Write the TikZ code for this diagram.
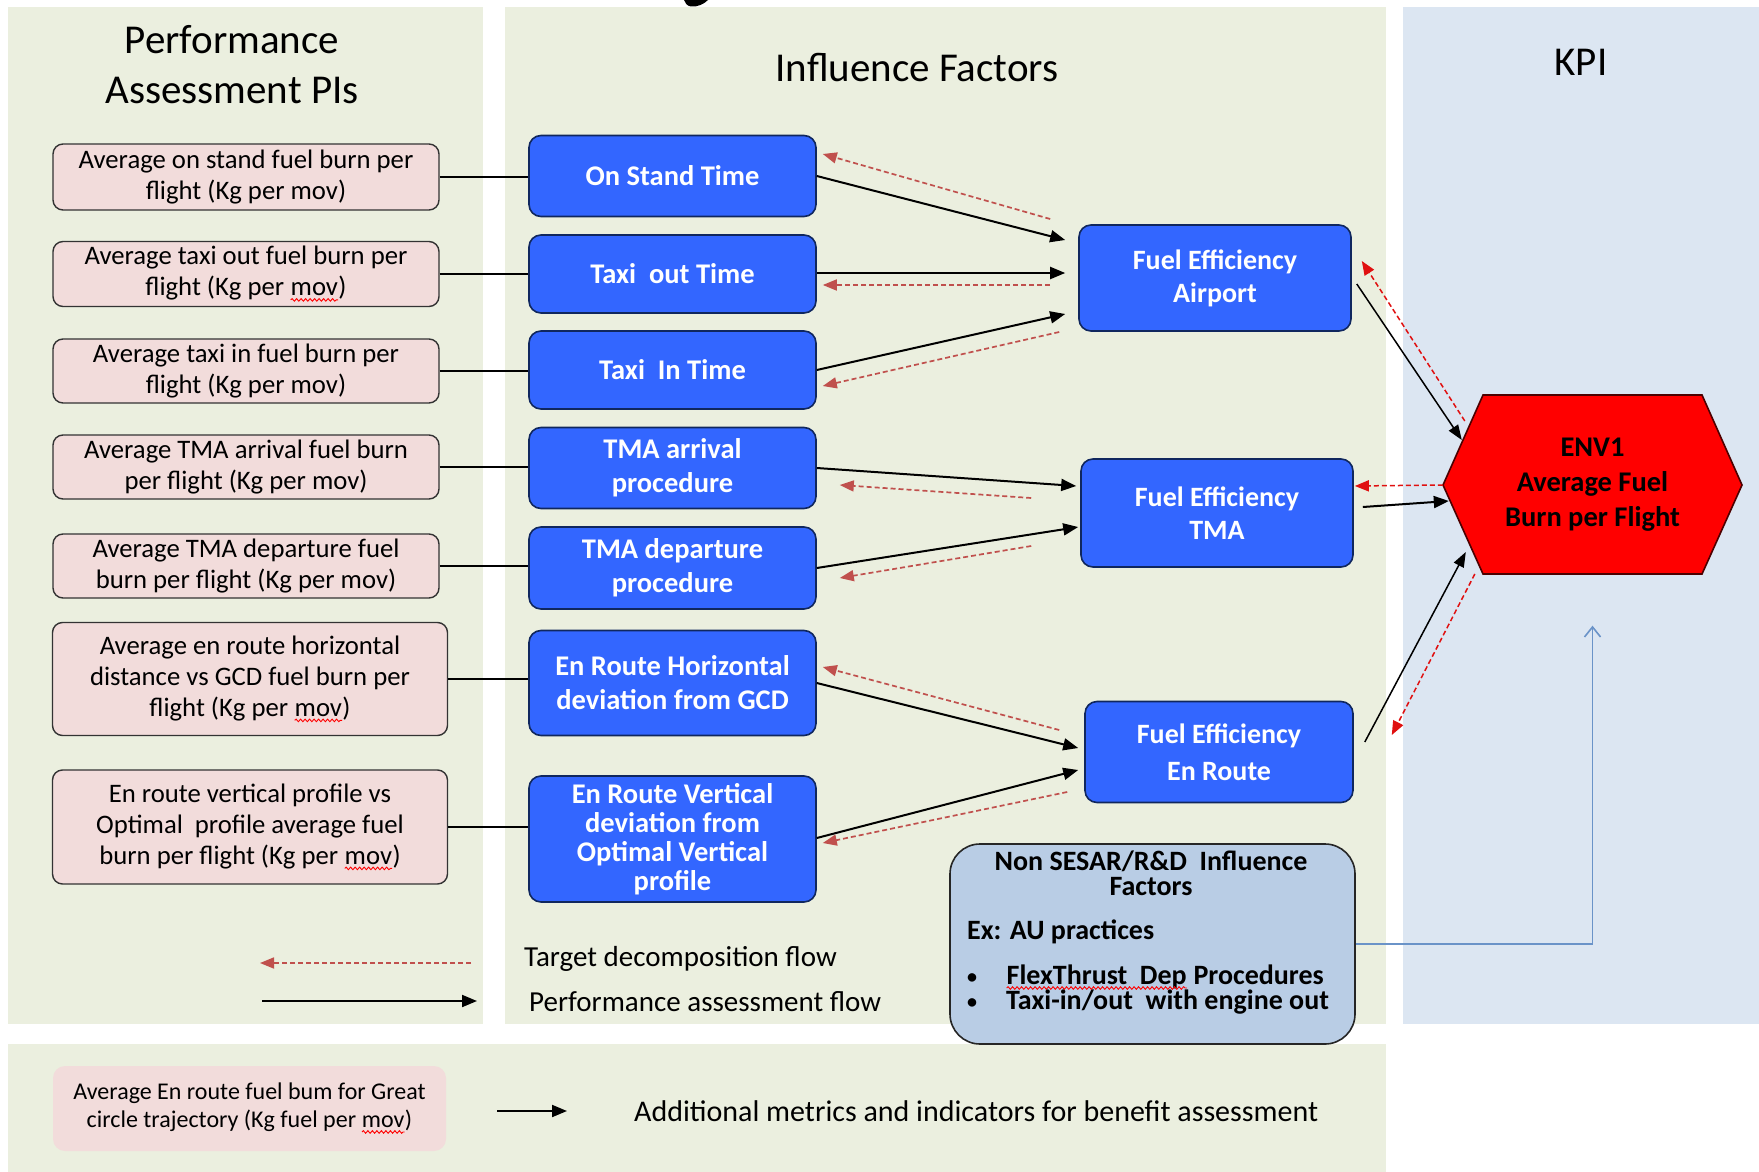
\documentclass[tikz,border=0pt]{standalone}
\usepackage{fontspec}
\setmainfont{Carlito}
\usetikzlibrary{calc,arrows.meta,decorations.pathmorphing}
\definecolor{panelg}{HTML}{EBEFDF}
\definecolor{panelb}{HTML}{DCE6F2}
\definecolor{pinkf}{HTML}{F2DCDB}
\definecolor{bluef}{HTML}{3366FF}
\definecolor{blued}{HTML}{10275E}
\definecolor{reddash}{HTML}{C0504D}
\definecolor{redbright}{HTML}{E01010}
\definecolor{nsf}{HTML}{B9CDE5}
\definecolor{lineblue}{HTML}{6A93C8}
\definecolor{hexred}{HTML}{FF0000}
\newcommand{\spl}[1]{\tikz[baseline=(w.base)]{\node[inner sep=0pt, outer sep=0pt, minimum width=0pt, minimum height=0pt, draw=none, fill=none, rounded corners=0pt, anchor=base] (w) {#1}; \draw[draw=red, fill=none, line width=0.9pt, solid, sharp corners, decorate, decoration={snake, amplitude=1.3pt, segment length=4.5pt}] ([yshift=-4pt]w.base west) -- ([yshift=-4pt]w.base east);}}
\begin{document}
\begin{tikzpicture}[x=1pt,y=-1pt,
  pinkbox/.style={draw=black!80, line width=1.4pt, fill=pinkf, rounded corners=10pt, align=center, inner sep=0pt, font=\fontsize{26.7}{31}\selectfont},
  bluebox/.style={draw=blued, line width=1.6pt, fill=bluef, rounded corners=12pt, align=center, inner sep=0pt, text=white, font=\bfseries\fontsize{28.5}{34}\selectfont},
  titletext/.style={align=center, inner sep=0pt, font=\fontsize{41}{50}\selectfont},
  nst/.style={inner sep=0pt, font=\bfseries\fontsize{28}{28}\selectfont},
  legtext/.style={inner sep=0pt, font=\fontsize{29}{29}\selectfont},
  conn/.style={draw=black, line width=1.8pt},
  blk/.style={draw=black, line width=2pt, -{Triangle[length=15pt,width=12pt]}},
  blkthin/.style={draw=black, line width=1.5pt, -{Triangle[length=15pt,width=11pt]}},
  rdash/.style={draw=reddash, line width=1.7pt, dash pattern=on 5pt off 3pt, -{Triangle[length=14pt,width=11pt]}},
  rdashb/.style={draw=redbright, line width=1.5pt, dash pattern=on 5pt off 3pt, -{Triangle[length=14pt,width=11pt]}},
  blueln/.style={draw=lineblue, line width=1.6pt, -{Straight Barb[length=10pt,width=16pt]}}
]
\useasboundingbox (0,0) rectangle (1759,1172);
\fill[white] (0,0) rectangle (1759,1172);
% cut-off fragment of a glyph above the picture
\fill[black] (684,0) -- (708,0) .. controls (704,4) and (698,7) .. (691,6.5) .. controls (687,6) and (685,3) .. cycle;
% panels
\fill[panelg] (8,7) rectangle (483,1024);
\fill[panelg] (505,7) rectangle (1386,1024);
\fill[panelb] (1403,7) rectangle (1759,1024);
\fill[panelg] (8,1044) rectangle (1386,1172);

% titles
\node[titletext] (t1) at (232,65) {Performance\\Assessment PIs};
\node[titletext] (t2) at (917,68) {Influence Factors};
\node[titletext] (t3) at (1581,62) {KPI};

% pink boxes
\node[pinkbox, minimum width=386, minimum height=66] (p1) at (246,177) {Average on stand fuel burn per\\flight (Kg per mov)};
\node[pinkbox, minimum width=386, minimum height=65] (p2) at (246,274) {Average taxi out fuel burn per\\flight (Kg per \spl{mov})};
\node[pinkbox, minimum width=386, minimum height=64] (p3) at (246,371) {Average taxi in fuel burn per\\flight (Kg per mov)};
\node[pinkbox, minimum width=386, minimum height=64] (p4) at (246,467) {Average TMA arrival fuel burn\\per flight (Kg per mov)};
\node[pinkbox, minimum width=386, minimum height=64] (p5) at (246,566) {Average TMA departure fuel\\burn per flight (Kg per mov)};
\node[pinkbox, minimum width=395, minimum height=113] (p6) at (250,679) {Average en route horizontal\\distance vs GCD fuel burn per\\flight (Kg per \spl{mov})};
\node[pinkbox, minimum width=395, minimum height=114] (p7) at (250,827) {En route vertical profile vs\\Optimal\ \ profile average fuel\\burn per flight (Kg per \spl{mov})};

% blue boxes
\node[bluebox, minimum width=287, minimum height=81] (b1) at (672.5,176) {On Stand Time};
\node[bluebox, minimum width=287, minimum height=78] (b2) at (672.5,274) {Taxi\ \ out Time};
\node[bluebox, minimum width=287, minimum height=78] (b3) at (672.5,370) {Taxi\ \ In Time};
\node[bluebox, minimum width=287, minimum height=81] (b4) at (672.5,468) {TMA arrival\\procedure};
\node[bluebox, minimum width=287, minimum height=82] (b5) at (672.5,568) {TMA departure\\procedure};
\node[bluebox, minimum width=287, minimum height=105] (b6) at (672.5,683) {En Route Horizontal\\deviation from GCD};
\node[bluebox, minimum width=287, minimum height=126, font=\bfseries\fontsize{28.5}{29}\selectfont] (b7) at (672.5,839) {En Route Vertical\\deviation from\\Optimal Vertical\\profile};

% fuel efficiency boxes
\node[bluebox, minimum width=272, minimum height=106, font=\bfseries\fontsize{28}{33}\selectfont] (fa) at (1215,278) {Fuel Efficiency\\Airport};
\node[bluebox, minimum width=272, minimum height=108, font=\bfseries\fontsize{28}{33}\selectfont] (ft) at (1217,513) {Fuel Efficiency\\TMA};
\node[bluebox, minimum width=268, minimum height=101, font=\bfseries\fontsize{28}{37}\selectfont] (fe) at (1219,752) {Fuel Efficiency\\En Route};

% hexagon
\coordinate (envc) at (1592.5,485);
\draw[fill=hexred, draw=black!70!red, line width=1.6pt]
  ($(envc)+(-149.5,0)$) -- ($(envc)+(-109.5,-90)$) -- ($(envc)+(109.5,-90)$) -- ($(envc)+(149.5,0)$) -- ($(envc)+(109.5,89)$) -- ($(envc)+(-109.5,89)$) -- cycle;
\node[align=center, inner sep=0pt, minimum width=299, minimum height=179, font=\bfseries\fontsize{28.5}{35}\selectfont] (env) at (envc) {ENV1\\Average Fuel\\Burn per Flight};

% non sesar box
\node[draw=black!85, line width=1.6pt, fill=nsf, rounded corners=30pt, minimum width=405, minimum height=200, inner sep=0pt] (ns) at (1152.5,944) {};
\node[nst, anchor=base] (ns1) at (1151,870) {Non SESAR/R\&D\ \ Influence};
\node[nst, anchor=base] (ns2) at (1151,895) {Factors};
\node[nst, anchor=base west] (ns3) at (967,939) {Ex: AU practices};
\node[nst, anchor=base west, font=\bfseries\fontsize{20}{20}\selectfont] (ns4) at (967,983) {\textbullet};
\node[nst, anchor=base west] (ns5) at (1006,984) {\spl{FlexThrust\ \ Dep} Procedures};
\node[nst, anchor=base west, font=\bfseries\fontsize{20}{20}\selectfont] (ns6) at (967,1008) {\textbullet};
\node[nst, anchor=base west] (ns7) at (1006,1009) {Taxi-in/out\ \ with engine out};

% pink to blue connectors
\foreach \i in {1,...,7} {\draw[conn] (p\i.east) -- (p\i.east -| b\i.west);}

% flows to fuel efficiency airport
\draw[blk] (b1.east) -- ($(fa.west)+(-13,-38)$);
\draw[rdash] ($(fa.west)+(-28,-59)$) -- ($(b1.east)+(6,-22)$);
\draw[blk] ($(b2.east)+(0,-1)$) -- ($(fa.west)+(-13,-5)$);
\draw[rdash] ($(fa.west)+(-28,7)$) -- ($(b2.east)+(6,11)$);
\draw[blk] (b3.east) -- ($(fa.west)+(-13,36)$);
\draw[rdash] ($(fa.west)+(-19,54)$) -- ($(b3.east)+(6,16)$);
% TMA
\draw[blk] (b4.east) -- ($(ft.west)+(-4,-27)$);
\draw[rdash] ($(ft.west)+(-49,-15)$) -- ($(b4.east)+(23,17)$);
\draw[blk] (b5.east) -- ($(ft.west)+(-2,14)$);
\draw[rdash] ($(ft.west)+(-49,33)$) -- ($(b5.east)+(23,10)$);
% En route
\draw[blk] (b6.east) -- ($(fe.west)+(-6,-4)$);
\draw[rdash] ($(fe.west)+(-25,-22)$) -- ($(b6.east)+(6,-16)$);
\draw[blk] ($(b7.east)+(0,-1)$) -- ($(fe.west)+(-6,18)$);
\draw[rdash] ($(fe.west)+(-17,40)$) -- ($(b7.east)+(6,4)$);
% to ENV1
\draw[blkthin] ($(fa.east)+(5,6)$) -- ($(env.west)+(19,-45)$);
\draw[rdashb] ($(env.west)+(22,-64)$) -- ($(fa.east)+(10,-17)$);
\draw[rdashb] (env.west) -- ($(ft.east)+(1,-27)$);
\draw[blk] ($(ft.east)+(9,-6)$) -- ($(env.west)+(6,16)$);
\draw[blkthin] ($(fe.east)+(11,-10)$) -- ($(env.west)+(23,67)$);
\draw[rdashb] ($(env.west)+(32,89)$) -- ($(fe.east)+(38,-17)$);

% non sesar to KPI
\draw[blueln] (ns.east) -| ($(env.south)+(0,51)$);

% legend
\coordinate (l1s) at (471,963);
\coordinate (l1e) at (260,963);
\coordinate (l2s) at (262,1001);
\coordinate (l2e) at (477,1001);
\draw[rdash] (l1s) -- (l1e);
\draw[blk] (l2s) -- (l2e);
\node[legtext, anchor=base west] (lg1) at (524,966) {Target decomposition flow};
\node[legtext, anchor=base west] (lg2) at (529,1011) {Performance assessment flow};

% bottom panel
\node[fill=pinkf, rounded corners=12pt, minimum width=393, minimum height=85, inner sep=0pt, align=center, font=\fontsize{24}{28}\selectfont] (pb) at (249.5,1108.5) {Average En route fuel bum for Great\\circle trajectory (Kg fuel per \spl{mov})};
\node[inner sep=0pt, anchor=west, font=\fontsize{30}{30}\selectfont] (add) at (634,1111) {Additional metrics and indicators for benefit assessment};
\draw[blk] ($(pb.east)+(51,2.5)$) -- ($(add.west)+(-67,0)$);
\end{tikzpicture}
\end{document}
